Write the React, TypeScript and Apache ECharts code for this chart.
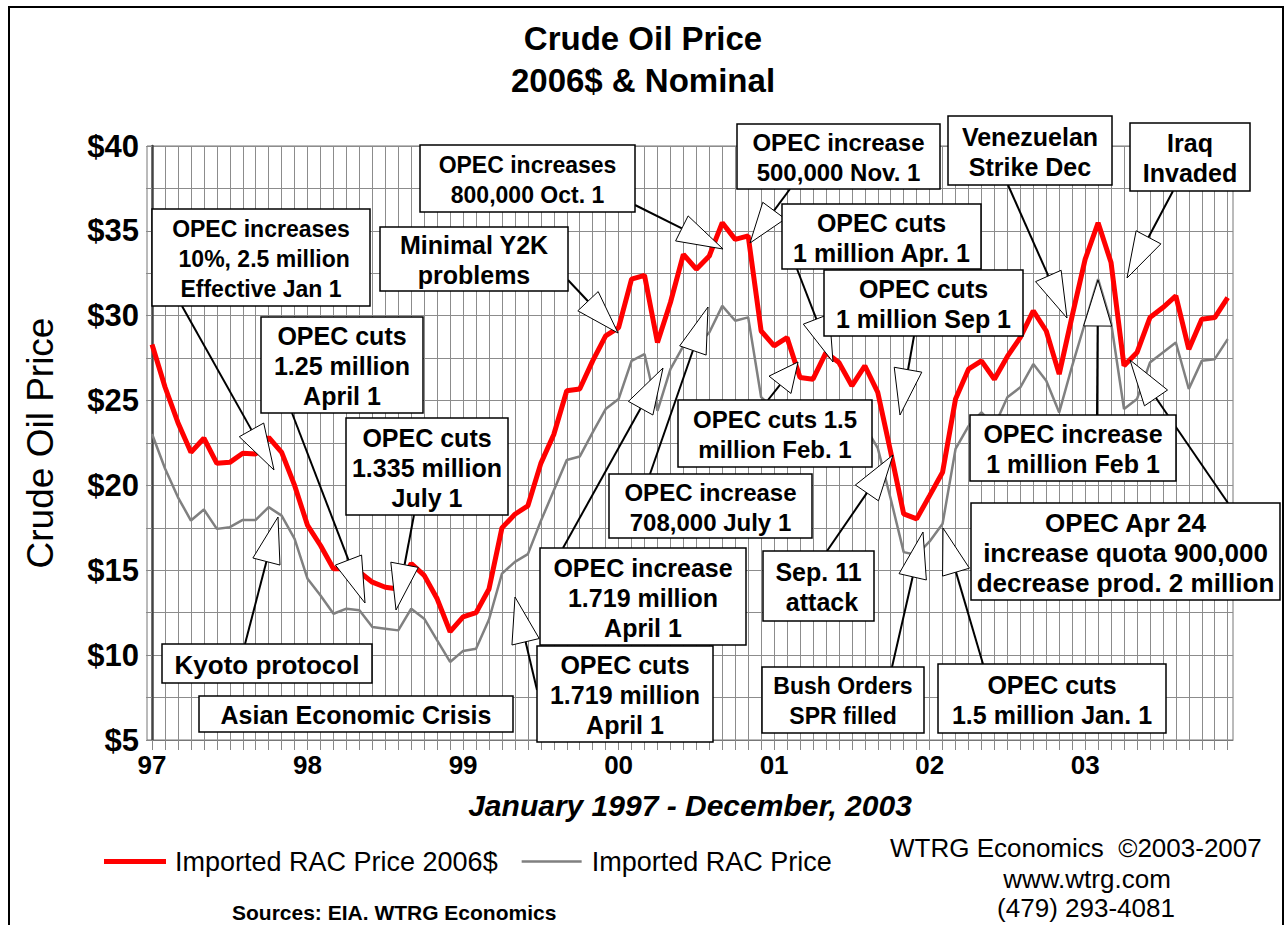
import { useEffect, useRef } from "react";
import * as echarts from "echarts";

// Year labels on the x axis (one per January, 1997-2003)
const yearLabels: string[] = ["97", "98", "99", "00", "01", "02", "03"];

// Imported RAC price in 2006 dollars, monthly Jan 1997 - Dec 2003
const realPrice: number[] = [
  28.3, 25.8, 23.7, 21.95, 22.78, 21.3, 21.36, 21.9, 21.85, 22.83, 21.95, 20.0,
  17.64, 16.46, 15.09, 15.1, 14.9, 14.3, 14.0, 13.9, 15.4, 14.7, 13.32, 11.38,
  12.25, 12.5, 13.9, 17.5, 18.3, 18.8, 21.3, 23.0, 25.58, 25.68, 27.34, 28.81,
  29.3, 32.15, 32.38, 28.42, 30.78, 33.62, 32.74, 33.52, 35.48, 34.5, 34.7, 29.1,
  28.22, 28.71, 26.36, 26.26, 27.83, 27.24, 25.87, 27.05, 25.48, 21.95, 18.32, 18.03,
  19.4, 20.78, 25.09, 26.85, 27.34, 26.26, 27.6, 28.72, 30.28, 29.1, 26.56, 29.99,
  33.32, 35.48, 33.13, 27.05, 27.83, 29.89, 30.48, 31.17, 28.03, 29.79, 29.89, 31.07,
];

// Imported RAC price, nominal dollars, monthly Jan 1997 - Dec 2003
const nominalPrice: number[] = [
  23.03, 21.0, 19.3, 17.93, 18.58, 17.44, 17.54, 17.97, 17.97, 18.72, 18.22, 16.85,
  14.5, 13.52, 12.44, 12.74, 12.64, 11.66, 11.56, 11.46, 12.74, 12.15, 10.87, 9.6,
  10.25, 10.38, 12.1, 14.8, 15.5, 15.95, 17.9, 19.7, 21.5, 21.7, 23.13, 24.5,
  25.09, 27.34, 27.74, 24.4, 26.85, 28.22, 28.2, 29.01, 30.58, 29.7, 29.9, 25.2,
  24.5, 25.0, 22.9, 22.8, 24.2, 23.7, 22.5, 23.5, 22.2, 19.2, 16.07, 15.9,
  16.7, 17.74, 22.15, 23.5, 24.3, 23.5, 25.19, 25.78, 27.15, 26.17, 24.3, 27.05,
  29.6, 32.15, 29.6, 24.5, 25.09, 27.24, 27.83, 28.42, 25.68, 27.34, 27.44, 28.62,
];

const seriesNames: string[] = ["Imported RAC Price 2006$", "Imported RAC Price"];

// Annotation call-outs (text, box [x, y, w, h] in px, font size, arrow tail & tip in px)
type Note = { text: string; box: number[]; size: number; tail?: number[]; tip?: number[] };
const notes: Note[] = [
  { text: "OPEC increases\n 10%, 2.5 million\nEffective Jan 1", box: [152, 209, 218, 97], size: 23, tail: [182, 306], tip: [274, 470] },
  { text: "OPEC cuts\n1.25 million\nApril 1", box: [261, 317, 162, 96], size: 25, tail: [292, 413], tip: [365, 603] },
  { text: "OPEC cuts\n1.335 million\nJuly 1", box: [346, 418, 162, 97], size: 25, tail: [414, 515], tip: [396, 610] },
  { text: "Kyoto protocol", box: [162, 644, 210, 39], size: 26, tail: [245, 644], tip: [278, 517] },
  { text: "Asian Economic Crisis", box: [199, 696, 314, 36], size: 25 },
  { text: "Minimal Y2K\nproblems", box: [380, 227, 188, 64], size: 25, tail: [568, 280], tip: [618, 333] },
  { text: "OPEC increases\n800,000 Oct. 1", box: [420, 145, 215, 67], size: 23, tail: [635, 205], tip: [723, 249] },
  { text: "OPEC increase\n500,000 Nov. 1", box: [737, 124, 203, 65], size: 24, tail: [790, 189], tip: [750, 243] },
  { text: "Venezuelan\nStrike Dec", box: [948, 116, 164, 69], size: 25, tail: [1008, 185], tip: [1067, 318] },
  { text: "Iraq\nInvaded", box: [1130, 123, 120, 68], size: 25, tail: [1173, 191], tip: [1127, 278] },
  { text: "OPEC cuts\n1 million Apr. 1", box: [782, 204, 199, 65], size: 25, tail: [797, 269], tip: [833, 362] },
  { text: "OPEC cuts\n1 million Sep 1", box: [824, 270, 199, 66], size: 25, tail: [914, 336], tip: [900, 415] },
  { text: "OPEC cuts 1.5\nmillion Feb. 1", box: [678, 400, 194, 67], size: 24, tail: [768, 400], tip: [798, 362] },
  { text: "OPEC increase\n708,000 July 1", box: [609, 474, 203, 64], size: 24, tail: [650, 474], tip: [708, 307] },
  { text: "OPEC increase\n1.719 million\nApril 1", box: [540, 548, 206, 97], size: 25, tail: [563, 548], tip: [663, 368] },
  { text: "OPEC cuts\n1.719 million\nApril 1", box: [537, 646, 176, 96], size: 25, tail: [537, 690], tip: [515, 597] },
  { text: "Sep. 11\n attack", box: [763, 551, 111, 70], size: 25, tail: [827, 551], tip: [893, 455] },
  { text: "Bush Orders\nSPR filled", box: [762, 667, 162, 66], size: 23, tail: [892, 667], tip: [923, 532] },
  { text: "OPEC cuts\n1.5 million Jan. 1", box: [938, 664, 228, 69], size: 25, tail: [983, 664], tip: [943, 528] },
  { text: "OPEC increase\n1 million Feb 1", box: [970, 415, 206, 66], size: 25, tail: [1097, 415], tip: [1098, 280] },
  { text: "OPEC Apr 24\nincrease quota 900,000\ndecrease prod. 2 million", box: [971, 503, 309, 97], size: 26, tail: [1228, 503], tip: [1130, 360] },
];

const FONT = "Liberation Sans, Arial, sans-serif";

function buildGraphics(): any[] {
  const els: any[] = [];
  // outer frame
  els.push({
    type: "rect",
    shape: { x: 9, y: 7, width: 1274, height: 940 },
    style: { fill: "none", stroke: "#000", lineWidth: 2 },
    silent: true,
    z: 1,
  });
  notes.forEach((n) => {
    if (n.tail && n.tip) {
      const [x0, y0] = n.tail;
      const [x1, y1] = n.tip;
      const dx = x1 - x0;
      const dy = y1 - y0;
      const len = Math.sqrt(dx * dx + dy * dy) || 1;
      const ux = dx / len;
      const uy = dy / len;
      const L = Math.min(46, len * 0.6);
      const W = 14;
      const bx = x1 - ux * L;
      const by = y1 - uy * L;
      els.push({
        type: "line",
        shape: { x1: x0, y1: y0, x2: bx, y2: by },
        style: { stroke: "#000", lineWidth: 2 },
        silent: true,
        z: 10,
      });
      els.push({
        type: "polygon",
        shape: {
          points: [
            [x1, y1],
            [bx - uy * W, by + ux * W],
            [bx + uy * W, by - ux * W],
          ],
        },
        style: { fill: "#fff", stroke: "#000", lineWidth: 1 },
        silent: true,
        z: 11,
      });
    }
    const [bx, by, bw, bh] = n.box;
    els.push({
      type: "rect",
      shape: { x: bx, y: by, width: bw, height: bh },
      style: { fill: "#fff", stroke: "#000", lineWidth: 1.5 },
      silent: true,
      z: 12,
    });
    els.push({
      type: "text",
      x: bx + bw / 2,
      y: by + bh / 2 + 1,
      style: {
        text: n.text,
        fill: "#000",
        fontSize: n.size,
        fontWeight: "bold",
        fontFamily: FONT,
        align: "center",
        verticalAlign: "middle",
        lineHeight: 30,
      },
      silent: true,
      z: 13,
    });
  });
  // y axis title
  els.push({
    type: "text",
    x: 40,
    y: 443,
    rotation: Math.PI / 2,
    style: {
      text: "Crude Oil Price",
      fill: "#000",
      fontSize: 37,
      fontFamily: FONT,
      align: "center",
      verticalAlign: "middle",
    },
    z: 5,
  });
  // credits
  els.push({
    type: "text",
    x: 890,
    y: 848,
    style: { text: "WTRG Economics  \u00a92003-2007", fill: "#000", fontSize: 26, fontFamily: FONT, align: "left", verticalAlign: "middle" },
    z: 5,
  });
  els.push({
    type: "text",
    x: 1087,
    y: 879,
    style: { text: "www.wtrg.com", fill: "#000", fontSize: 26, fontFamily: FONT, align: "center", verticalAlign: "middle" },
    z: 5,
  });
  els.push({
    type: "text",
    x: 1086,
    y: 908,
    style: { text: "(479) 293-4081", fill: "#000", fontSize: 26, fontFamily: FONT, align: "center", verticalAlign: "middle" },
    z: 5,
  });
  els.push({
    type: "text",
    x: 232,
    y: 912,
    style: { text: "Sources: EIA. WTRG Economics", fill: "#000", fontSize: 21, fontWeight: "bold", fontFamily: FONT, align: "left", verticalAlign: "middle" },
    z: 5,
  });
  return els;
}

export default function App() {
  const ref = useRef<HTMLDivElement>(null);
  useEffect(() => {
    if (!ref.current) return;
    const chart = echarts.init(ref.current, null, { renderer: "svg" });
    const monthTicks = realPrice.map((_, i) => i);
    const yearTicks = yearLabels.map((_, k) => k * 12);
    chart.setOption({
      animation: false,
      backgroundColor: "#fff",
      textStyle: { fontFamily: FONT },
      title: {
        text: "Crude Oil Price\n2006$ & Nominal",
        left: "center",
        top: 12,
        textStyle: { fontSize: 33, fontWeight: "bold", color: "#000", lineHeight: 42, fontFamily: FONT },
      },
      legend: {
        data: [
          { name: seriesNames[0], icon: "rect" },
          { name: seriesNames[1], icon: "path://M0,0H0.5V0.02H0Z M0,1.2H60V3.8H0Z M0,4.98H0.5V5H0Z" },
        ],
        left: 99,
        top: 843,
        itemWidth: 62,
        itemHeight: 5,
        itemGap: 24,
        textStyle: { fontSize: 27, color: "#000", fontFamily: FONT, padding: [0, 0, 0, 4] },
      },
      grid: {
        left: 147,
        top: 146,
        width: 1086,
        height: 594,
        show: true,
        borderColor: "#777",
        borderWidth: 1,
        backgroundColor: "#fff",
      },
      xAxis: {
        type: "value",
        min: -0.39,
        max: 83.41,
        name: "January 1997 - December, 2003",
        nameLocation: "middle",
        nameGap: 50,
        nameTextStyle: { fontSize: 30, fontWeight: "bold", fontStyle: "italic", color: "#000", fontFamily: FONT },
        axisLine: { show: true, lineStyle: { color: "#777", width: 1 } },
        axisTick: { show: true, customValues: monthTicks, length: 10, lineStyle: { color: "#888", width: 1 } },
        axisLabel: {
          customValues: yearTicks,
          formatter: (v: number) => yearLabels[Math.round(v / 12)] ?? "",
          fontSize: 26,
          fontWeight: "bold",
          color: "#000",
          margin: 12,
          fontFamily: FONT,
        },
        splitLine: { show: true, lineStyle: { color: "#8c8c8c", width: 1 } },
      },
      yAxis: {
        type: "value",
        min: 5,
        max: 40,
        interval: 2.5,
        axisLine: { show: true, lineStyle: { color: "#444", width: 2.5 } },
        axisTick: { show: true, length: 6, lineStyle: { color: "#888", width: 1 } },
        axisLabel: {
          formatter: (v: number) => (v % 5 === 0 ? "$" + v : ""),
          fontSize: 31,
          fontWeight: "bold",
          color: "#000",
          margin: 8,
          fontFamily: FONT,
        },
        splitLine: { show: true, lineStyle: { color: "#8c8c8c", width: 1 } },
      },
      series: [
        {
          name: seriesNames[1],
          type: "line",
          data: nominalPrice.map((v, i) => [i, v]),
          symbol: "none",
          lineStyle: { color: "#808080", width: 2.5 },
          itemStyle: { color: "#808080" },
          z: 2,
        },
        {
          name: seriesNames[0],
          type: "line",
          data: realPrice.map((v, i) => [i, v]),
          symbol: "none",
          lineStyle: { color: "#ff0000", width: 5 },
          itemStyle: { color: "#ff0000" },
          z: 3,
        },
      ],
      graphic: buildGraphics(),
    });
    return () => chart.dispose();
  }, []);
  return (
    <div
      ref={ref}
      style={{ position: "absolute", left: 0, top: 0, width: 1286, height: 925, background: "#fff" }}
    />
  );
}
